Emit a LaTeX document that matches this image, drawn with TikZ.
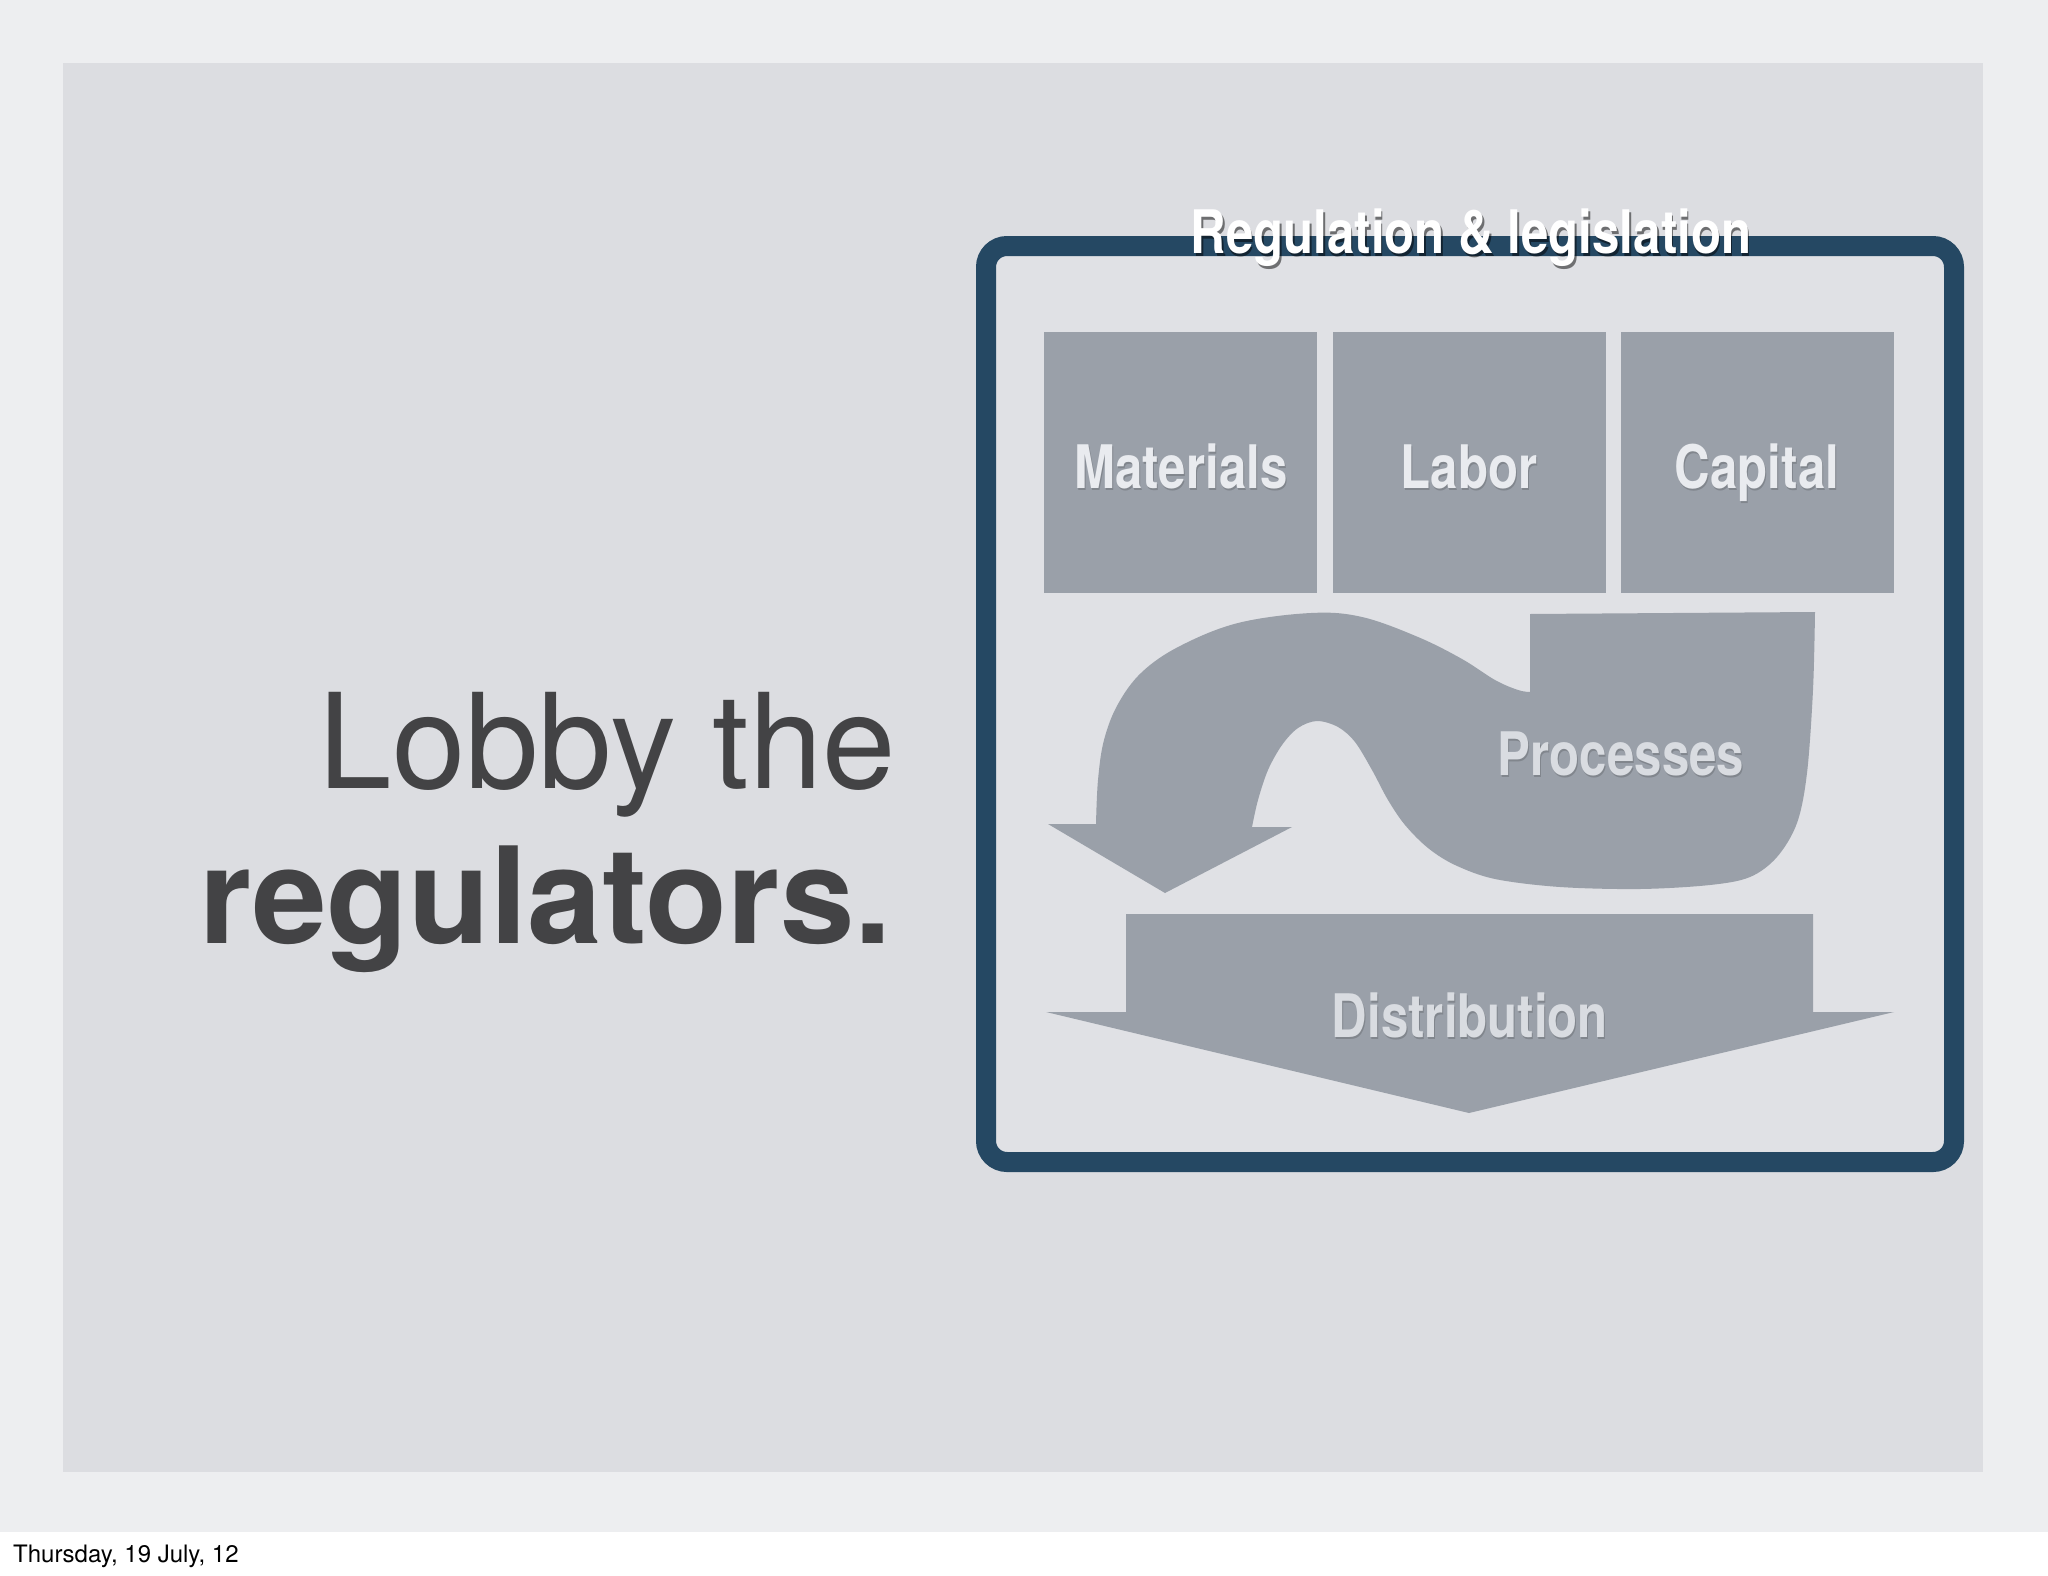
\documentclass[tikz,border=0pt]{standalone}
\usepackage{fontspec}
\setmainfont{TeX Gyre Heros}
\newfontfamily\condfont[FakeStretch=0.82]{TeX Gyre Heros}
\definecolor{pagebg}{HTML}{EDEEF0}
\definecolor{panelbg}{HTML}{DCDDE1}
\definecolor{framebg}{HTML}{E0E1E5}
\definecolor{navy}{HTML}{254863}
\definecolor{shapegray}{HTML}{9AA0A9}
\definecolor{labelwhite}{HTML}{E9EBEF}
\definecolor{proclabel}{HTML}{D9DCE1}
\definecolor{maintext}{HTML}{434345}
\begin{document}
\begin{tikzpicture}[x=1pt,y=-1pt,
  frame/.style={draw=navy, line width=20pt, fill=framebg, rounded corners=21pt,
    minimum width=968pt, minimum height=916pt, inner sep=0pt, outer sep=0pt},
  inputbox/.style={fill=shapegray, minimum width=273pt, minimum height=261pt, inner sep=0pt, outer sep=0pt},
  condlabel/.style={anchor=base, inner sep=0pt, font=\condfont\bfseries\fontsize{60}{60}\selectfont},
  boxlabel/.style={condlabel, text=labelwhite},
  labelshadow/.style={condlabel, text=black, opacity=0.16},
  titlelabel/.style={condlabel, text=white},
  titleshadow/.style={condlabel, text=black, opacity=0.5},
  proclabelsty/.style={condlabel, text=proclabel},
  flowshape/.style={fill=shapegray},
  bigtext/.style={anchor=base east, inner sep=0pt, text=maintext}
]
\useasboundingbox (0,0) rectangle (2048,1576);
% page backgrounds
\fill[pagebg] (0,0) rectangle (2048,1576);
\fill[white] (0,1532) rectangle (2048,1576);
\fill[panelbg] (63,63) rectangle (1983,1472);

% main text
\node[bigtext, font=\fontsize{132}{132}\selectfont] (lobby) at (896,788) {Lobby the};
\node[bigtext, font=\bfseries\fontsize{134}{134}\selectfont] (regs) at (892,943) {regulators.};

% frame
\node[frame] (frame) at (1470,704) {};

% title
\node[titleshadow] (titleS) at (1472.5,256.5) {Regulation \& legislation};
\node[titlelabel] (title) at (1471,253) {Regulation \& legislation};

% input boxes
\node[inputbox] (materials) at (1180,462.5) {};
\node[inputbox] (labor) at (1469,462.5) {};
\node[inputbox] (capital) at (1757,462.5) {};
\node[labelshadow] (materialsS) at (1182,490) {Materials};
\node[boxlabel] (materialsT) at (1181,488) {Materials};
\node[labelshadow] (laborS) at (1470,490) {Labor};
\node[boxlabel] (laborT) at (1469,488) {Labor};
\node[labelshadow] (capitalS) at (1758,490) {Capital};
\node[boxlabel] (capitalT) at (1757,488) {Capital};

% processes arrow
\fill[flowshape] (1530,614) -- (1815,612)
  -- plot[smooth, tension=0.55] coordinates {(1815,612) (1813,690) (1807,773) (1797,823) (1777,857) (1750,877) (1710,885) (1640,889) (1560,887) (1495,879) (1455,865) (1428,848) (1405,825) (1388,800) (1372,770) (1355,742) (1338,727) (1317,721) (1298,728) (1282,745) (1268,770) (1258,800) (1252,827)}
  -- (1292,827) -- (1165,893) -- (1048,824) -- (1096,824)
  -- plot[smooth, tension=0.6] coordinates {(1096,824) (1098,780) (1104,740) (1118,704) (1142,672) (1180,646) (1238,623) (1311,613) (1362,617) (1418,637) (1462,659) (1495,680) (1518,690) (1530,692)}
  -- cycle;
\node[labelshadow] (procS) at (1622,777) {Processes};
\node[proclabelsty] (proc) at (1621,775) {Processes};

% distribution arrow
\fill[flowshape] (1126,914) -- (1813,914) -- (1813,1012) -- (1894,1012) -- (1469,1113) -- (1046,1012) -- (1126,1012) -- cycle;
\node[labelshadow] (distS) at (1471,1039) {Distribution};
\node[proclabelsty] (dist) at (1470,1037) {Distribution};

% date
\node[anchor=base west, inner sep=0pt, font=\fontsize{24}{24}\selectfont] (date) at (13,1562) {Thursday, 19 July, 12};
\end{tikzpicture}
\end{document}
